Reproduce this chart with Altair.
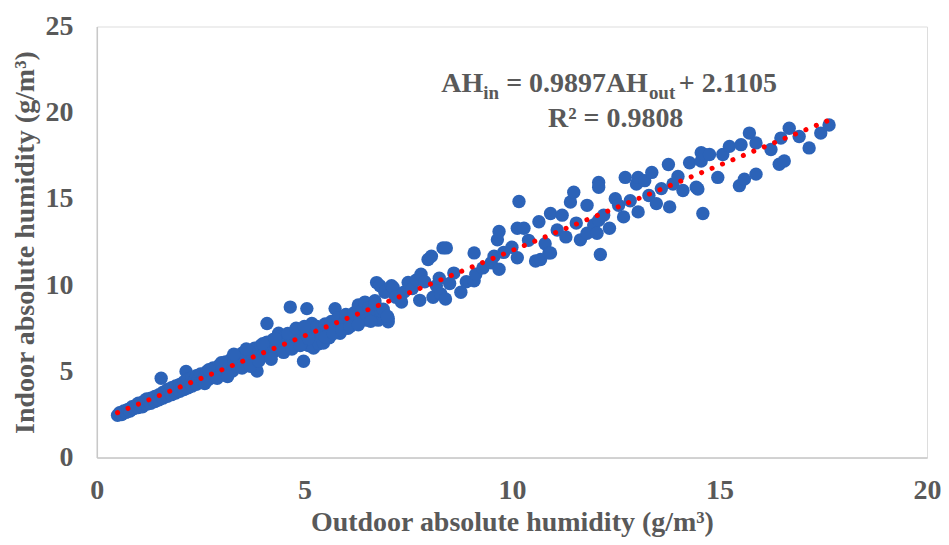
import altair as alt
import pandas as pd

outdoor_ah = [
    0.50, 0.55, 0.60, 0.65, 0.70, 0.75, 0.80, 0.85, 0.90, 0.95, 1.00, 1.00, 1.05, 1.10, 1.10,
    1.15, 1.20, 1.20, 1.25, 1.30, 1.30, 1.35, 1.40, 1.40, 1.45, 1.50, 1.50, 1.55, 1.55, 1.60,
    1.60, 1.65, 1.70, 1.70, 1.75, 1.80, 1.80, 1.85, 1.90, 1.90, 1.95, 2.00, 2.00, 2.05, 2.10,
    2.10, 2.15, 2.15, 2.20, 2.20, 2.25, 2.30, 2.30, 2.35, 2.40, 2.40, 2.45, 2.50, 2.50, 2.55,
    2.60, 2.65, 2.70, 2.75, 2.80, 2.80, 2.90, 2.95, 3.00, 3.05, 3.10, 3.10, 3.20, 3.25, 3.27,
    3.30, 3.35, 3.40, 3.45, 3.50, 3.55, 3.60, 3.65, 3.70, 3.75, 3.80, 3.86, 3.85, 3.90, 3.95,
    4.00, 4.05, 4.10, 4.10, 4.15, 4.20, 4.25, 4.30, 4.35, 4.38, 4.40, 4.45, 4.50, 4.55, 4.60,
    4.66, 4.70, 4.75, 4.80, 4.85, 4.90, 4.98, 5.00, 5.06, 5.05, 5.10, 5.15, 5.18, 5.22, 5.25,
    5.30, 5.35, 5.40, 5.46, 5.50, 5.55, 5.60, 5.65, 5.74, 5.75, 5.80, 5.86, 5.90, 5.98, 6.00,
    6.05, 6.10, 6.20, 6.25, 6.30, 6.35, 6.40, 6.46, 6.50, 6.55, 6.60, 6.70, 6.74, 6.78, 6.82,
    6.85, 6.94, 6.97, 7.02, 7.02, 7.10, 7.14, 7.20, 7.34, 7.40, 7.50, 7.60, 7.70, 7.78, 7.81,
    7.90, 7.98, 8.06, 8.10, 8.18, 8.25, 8.29, 8.34, 8.42, 8.40, 8.50, 8.60, 8.77, 8.90, 9.09,
    9.09, 9.13, 9.30, 9.50, 9.57, 9.65, 9.69, 9.69, 9.80, 10.00, 10.13, 10.13, 10.17, 10.29, 10.40,
    10.57, 10.65, 10.69, 10.80, 10.89, 10.93, 10.93, 11.09, 11.21, 11.30, 11.41, 11.49, 11.55, 11.65, 11.81,
    11.81, 11.97, 12.05, 12.09, 12.09, 12.09, 12.13, 12.21, 12.35, 12.49, 12.57, 12.69, 12.73, 12.85, 13.00,
    13.04, 13.04, 13.20, 13.30, 13.37, 13.48, 13.60, 13.77, 13.80, 13.88, 14.00, 14.12, 14.28, 14.44, 14.48,
    14.56, 14.56, 14.60, 14.64, 14.76, 14.96, 15.08, 15.24, 15.48, 15.52, 15.60, 15.72, 15.88, 15.88, 16.24,
    16.44, 16.48, 16.56, 16.68, 16.92, 17.16, 17.44, 17.64,
    2.60, 2.70, 2.90, 3.00, 3.15, 3.30, 3.50, 3.60, 3.70, 3.90, 4.00, 4.20, 4.30, 4.50, 4.60,
    4.70, 4.80, 4.90, 5.00, 5.10, 5.50, 5.70, 5.90, 6.10, 6.30, 6.60, 6.70, 6.90, 7.00,
]
indoor_ah = [
    2.45, 2.60, 2.50, 2.70, 2.62, 2.80, 2.70, 2.95, 2.85, 3.05, 2.90, 3.15, 3.00, 3.20, 2.95,
    3.30, 3.10, 3.40, 3.25, 3.45, 3.15, 3.35, 3.55, 3.25, 3.45, 3.65, 3.35, 4.60, 3.55, 3.80,
    3.45, 3.70, 3.95, 3.55, 3.80, 4.05, 3.65, 3.90, 4.15, 3.75, 4.00, 4.25, 3.85, 4.10, 4.40,
    3.95, 5.00, 4.20, 4.55, 4.05, 4.30, 4.65, 4.15, 4.45, 4.75, 4.25, 4.55, 4.85, 4.35, 4.45,
    4.70, 5.00, 4.55, 4.85, 5.20, 4.65, 5.00, 5.35, 4.85, 5.20, 5.55, 4.95, 5.35, 5.75, 5.02,
    5.50, 5.90, 5.30, 5.65, 6.05, 5.50, 5.85, 6.20, 5.60, 6.00, 6.35, 5.02, 5.80, 6.15, 6.50,
    5.95, 6.30, 7.78, 6.70, 6.05, 6.45, 6.85, 6.20, 6.60, 7.21, 7.00, 6.40, 6.75, 7.10, 6.50,
    8.73, 6.90, 7.20, 6.60, 7.00, 7.35, 5.59, 6.80, 8.64, 7.15, 6.50, 7.50, 7.78, 6.35, 7.00,
    7.60, 6.60, 7.25, 6.64, 7.75, 7.40, 6.95, 7.90, 8.64, 7.55, 8.10, 7.21, 7.70, 7.88, 8.30,
    7.50, 8.00, 8.40, 7.85, 8.85, 8.10, 8.55, 9.02, 7.97, 8.70, 8.25, 9.10, 10.15, 7.97, 9.97,
    8.50, 9.59, 9.70, 7.88, 8.07, 9.97, 9.87, 9.30, 9.02, 9.60, 10.16, 9.80, 10.30, 9.12, 10.63,
    10.20, 11.49, 11.68, 9.30, 9.97, 10.40, 9.49, 12.16, 12.16, 9.20, 10.10, 10.70, 9.59, 10.20, 10.26,
    11.87, 10.63, 11.00, 11.30, 11.68, 12.63, 13.11, 10.92, 11.90, 12.20, 11.59, 13.30, 14.85, 13.30, 12.60,
    11.40, 13.68, 11.49, 12.40, 11.87, 11.87, 14.16, 13.20, 14.06, 12.80, 14.82, 15.39, 13.60, 12.63, 13.01,
    14.63, 13.49, 13.01, 15.96, 15.68, 13.77, 11.78, 14.06, 13.30, 15.01, 14.63, 13.96, 16.25, 14.90, 15.87,
    14.25, 16.25, 16.06, 15.20, 16.54, 14.73, 15.60, 17.00, 14.54, 15.87, 16.30, 15.49, 17.10, 15.68, 15.58,
    17.68, 17.20, 14.16, 17.58, 17.58, 16.25, 17.58, 18.05, 15.77, 18.15, 16.15, 18.82, 18.25, 16.44, 17.87,
    17.01, 18.53, 17.20, 19.10, 18.62, 17.96, 18.82, 19.29,
    4.30, 5.10, 4.60, 5.50, 4.70, 6.00, 5.20, 6.30, 5.30, 5.60, 6.60, 5.70, 6.90, 6.10, 7.20,
    6.30, 7.50, 6.50, 7.60, 6.90, 7.00, 7.20, 7.40, 7.60, 7.70, 7.90, 8.90, 8.60, 8.20,
]

slope = 0.9897
intercept = 2.1105
r_squared = 0.9808
fit_x_range = [0.5, 17.6]

x_ticks = [0, 5, 10, 15, 20]
y_ticks = [0, 5, 10, 15, 20, 25]

points = pd.DataFrame({"out": outdoor_ah, "in": indoor_ah})
fit = pd.DataFrame({"out": fit_x_range, "in": [slope * v + intercept for v in fit_x_range]})

GRAY = "#595959"
FONT = "Liberation Serif"

x_scale = alt.Scale(domain=[0, 20], nice=False, zero=True)
y_scale = alt.Scale(domain=[0, 25], nice=False, zero=True)

x_axis = alt.Axis(values=x_ticks, title="Outdoor absolute humidity (g/m³)", grid=False, ticks=False,
                  domainColor="#C8C8C8", domainWidth=1.5, labelFont=FONT, labelFontSize=28,
                  labelFontWeight="bold", labelColor=GRAY, labelPadding=19, labelFlush=False,
                  titleFont=FONT, titleFontSize=28, titleFontWeight="bold", titleColor=GRAY,
                  titlePadding=4)
y_axis = alt.Axis(values=y_ticks, title="Indoor absolute humidity (g/m³)", grid=False, ticks=False,
                  domainColor="#C8C8C8", domainWidth=1.5, labelFont=FONT, labelFontSize=28,
                  labelFontWeight="bold", labelColor=GRAY, labelPadding=24, labelFlush=False,
                  titleFont=FONT, titleFontSize=28, titleFontWeight="bold", titleColor=GRAY,
                  titlePadding=5)

scatter = alt.Chart(points).mark_circle(size=180, opacity=1, color="#2C63B8").encode(
    x=alt.X("out:Q", scale=x_scale, axis=x_axis),
    y=alt.Y("in:Q", scale=y_scale, axis=y_axis),
)

trend = alt.Chart(fit).mark_line(color="#FF0000", strokeWidth=5, strokeDash=[0.1, 11.2],
                                 strokeCap="round").encode(
    x=alt.X("out:Q", scale=x_scale),
    y=alt.Y("in:Q", scale=y_scale),
)

# equation annotation, anchored in data space
eq_anchor = pd.DataFrame({"out": [8.3], "in": [21.2]})
r2_anchor = pd.DataFrame({"out": [12.5], "in": [19.2]})

BIG = 28
SMALL = 19
pieces = [
    ("AH", 0, 0, BIG),
    ("in", 42, 7, SMALL),
    ("= 0.9897AH", 65, 0, BIG),
    ("out", 208, 7, SMALL),
    ("+ 2.1105", 238, 0, BIG),
]
eq_layers = []
for txt, dx, dy, sz in pieces:
    eq_layers.append(
        alt.Chart(eq_anchor).mark_text(text=txt, align="left", baseline="alphabetic", dx=dx, dy=dy,
                                       font=FONT, fontSize=sz, fontWeight="bold", color=GRAY).encode(
            x=alt.X("out:Q", scale=x_scale), y=alt.Y("in:Q", scale=y_scale))
    )

r2_text = alt.Chart(r2_anchor).mark_text(text=f"R² = {r_squared}", align="center", baseline="alphabetic",
                                         font=FONT, fontSize=BIG, fontWeight="bold", color=GRAY).encode(
    x=alt.X("out:Q", scale=x_scale), y=alt.Y("in:Q", scale=y_scale))

chart = alt.layer(scatter, trend, *eq_layers, r2_text).properties(
    width=832, height=432,
    autosize=alt.AutoSizeParams(type="none"),
    padding={"left": 89, "top": 18, "right": 14, "bottom": 79},
).configure_view(stroke=None).configure(background="white")

chart.save("out.html", embed_options={"renderer": "svg", "actions": False})
